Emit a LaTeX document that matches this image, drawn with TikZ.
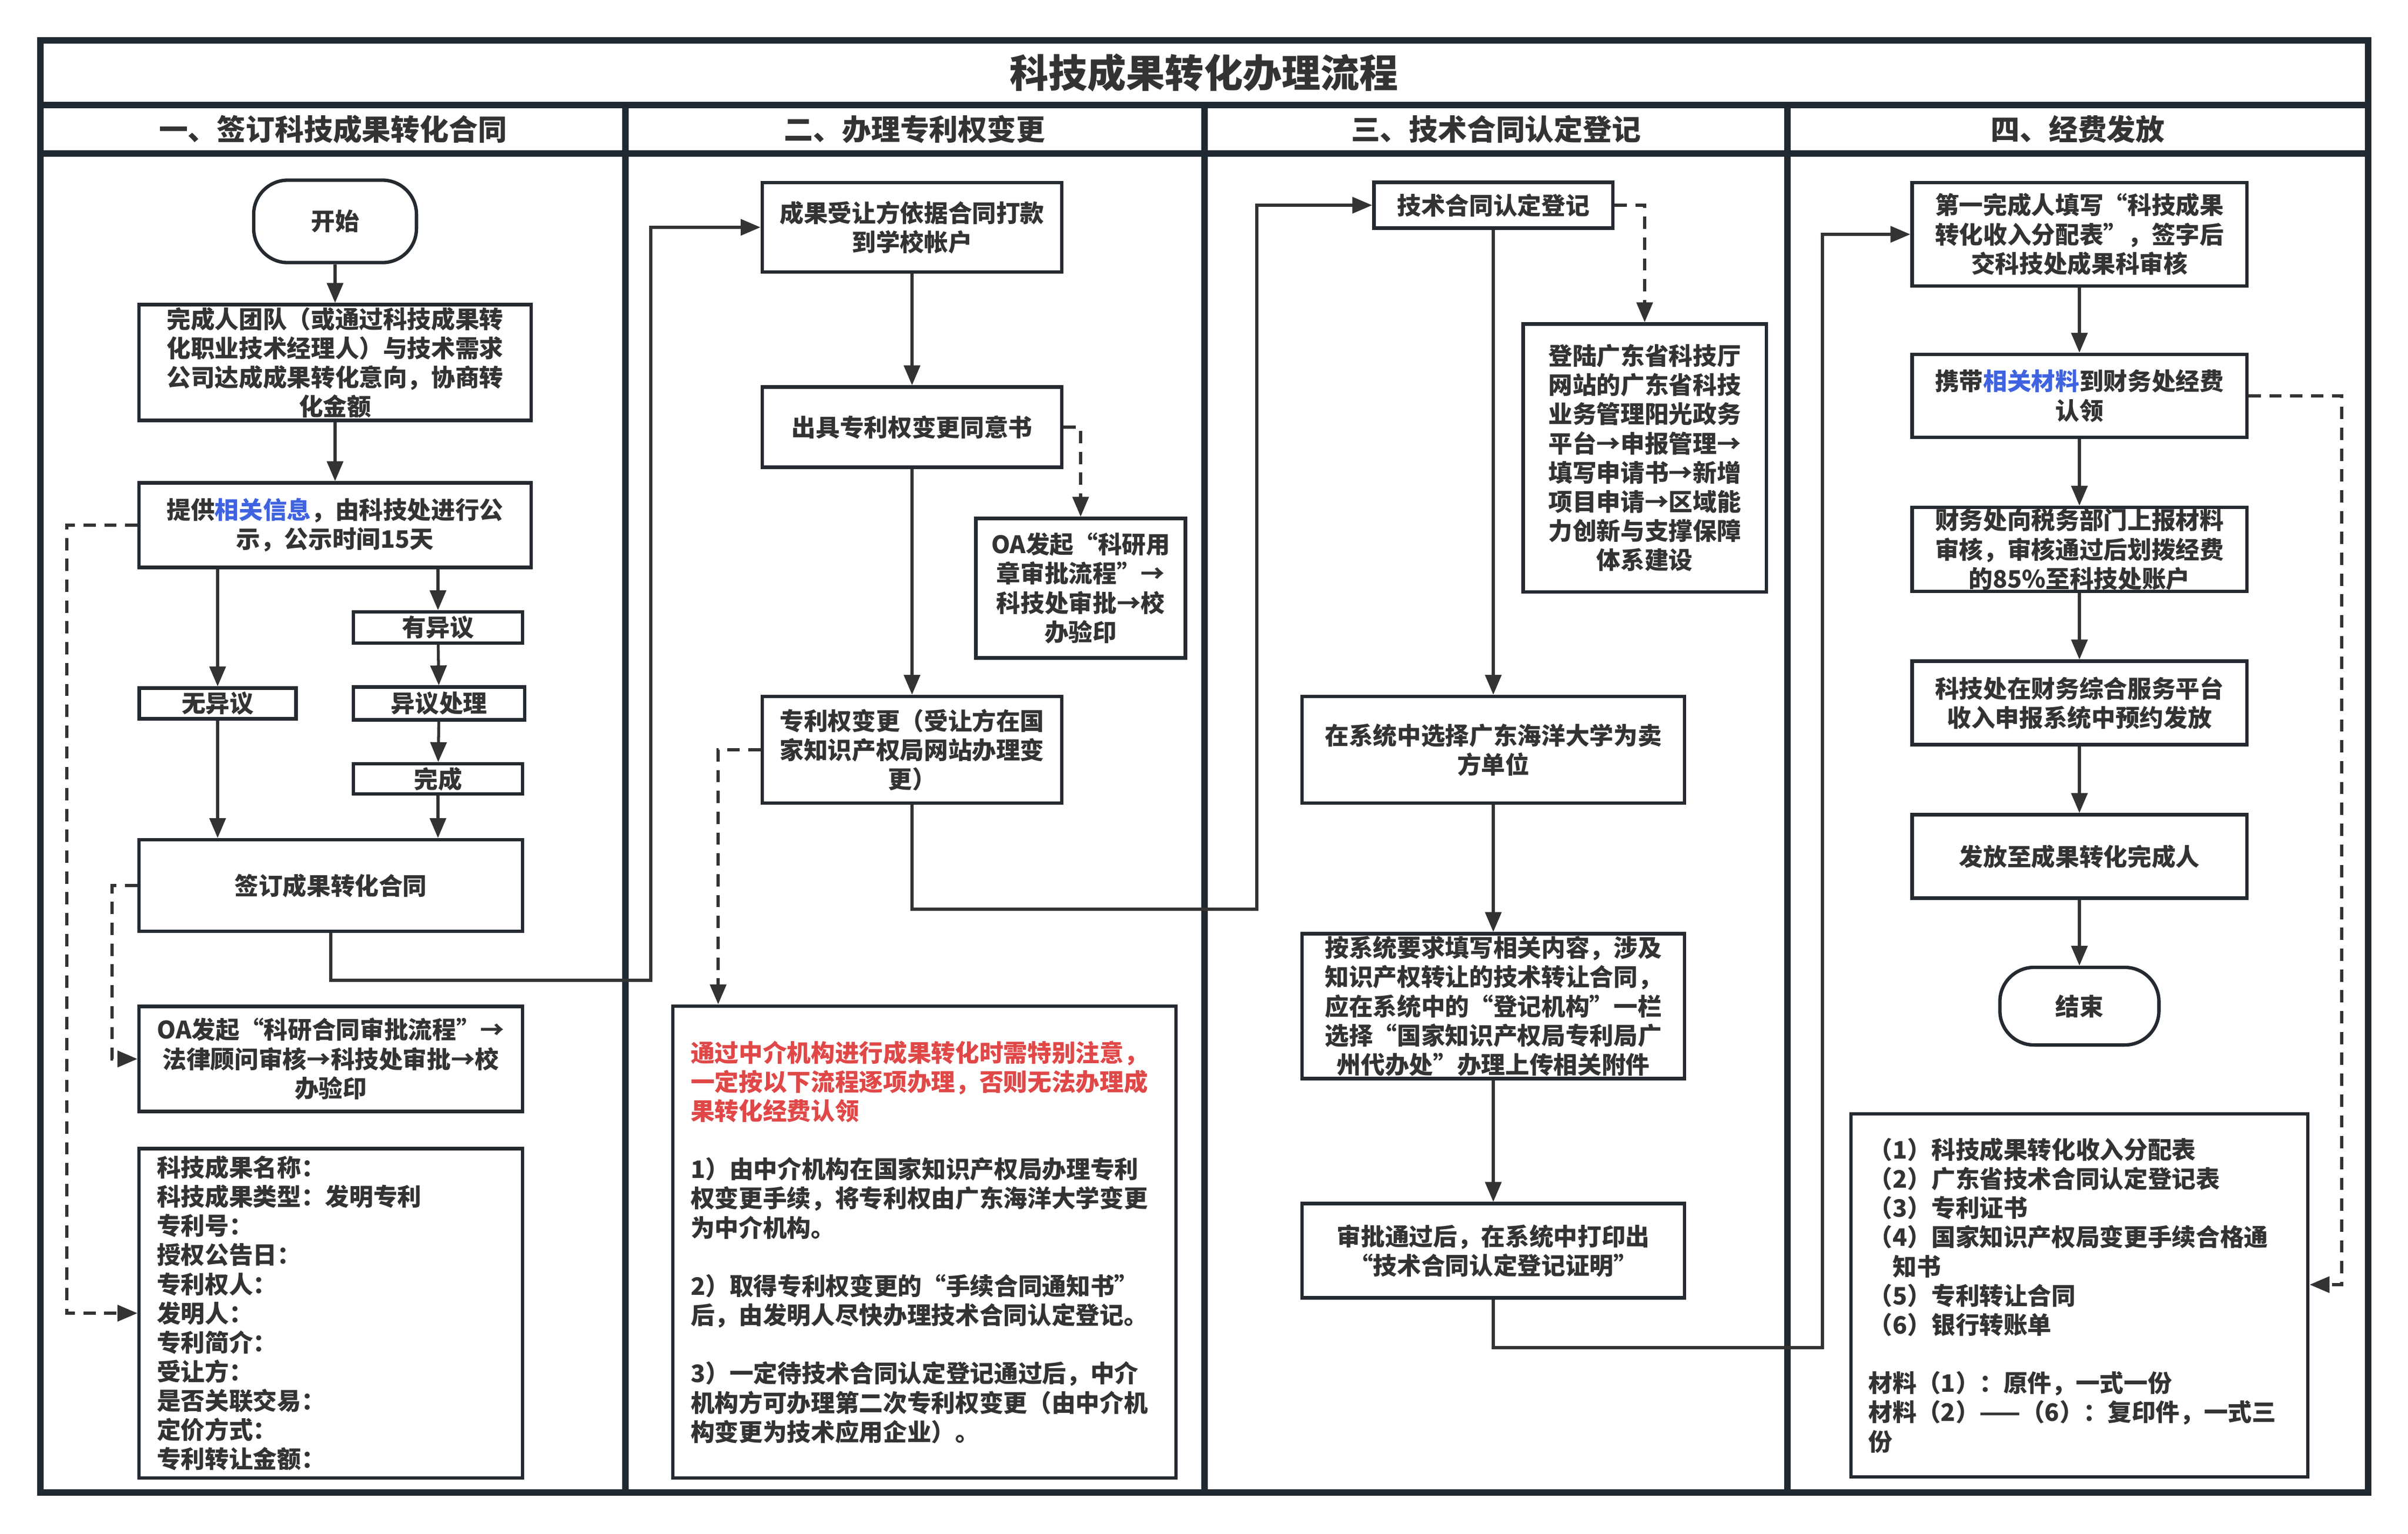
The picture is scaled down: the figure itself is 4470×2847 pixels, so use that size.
\documentclass[tikz,border=0pt]{standalone}
\usepackage{fontspec}
\setmainfont{Noto Sans CJK SC}
\usetikzlibrary{arrows.meta}
\definecolor{framec}{HTML}{212930}
\definecolor{linec}{HTML}{252A30}
\definecolor{arrc}{HTML}{333333}
\definecolor{textc}{HTML}{333333}
\definecolor{noteRed}{HTML}{E04848}
\definecolor{linkBlue}{HTML}{3F63E0}
\newcommand{\bodyfont}{\fontsize{12.7}{15.4}\selectfont\bfseries}
\newcommand{\headfont}{\fontsize{15.3}{18}\selectfont\bfseries}
\newcommand{\titlefont}{\fontsize{20.5}{24}\selectfont\bfseries}
\tikzset{
  fbox/.style={draw=linec,line width=1.8pt,fill=white,align=center,inner sep=0pt,text=textc,font=\bodyfont},
  termbox/.style={fbox,rounded corners=18pt},
  listbox/.style={fbox,align=left,inner xsep=0.33cm,inner ysep=0pt},
  arr/.style={draw=arrc,line width=1.5pt,-{Triangle[width=8.5pt,length=10.5pt]}},
  darr/.style={arr,dash pattern=on 6.5pt off 4.5pt},
  lane/.style={draw=framec,line width=3.2pt},
  hdr/.style={text=textc,font=\headfont,inner sep=0pt}
}
\begin{document}
\begin{tikzpicture}[x=0.01cm,y=-0.01cm]
        \useasboundingbox (0,0) rectangle (4470,2847);
        % frame and lanes
        \draw[lane] (75,75) rectangle (4396,2771);
        \draw[lane] (75,195) -- (4396,195);
        \draw[lane] (75,285) -- (4396,285);
        \draw[lane] (1161,195) -- (1161,2771);
        \draw[lane] (2236,195) -- (2236,2771);
        \draw[lane] (3318,195) -- (3318,2771);
        \node[text=textc,font=\titlefont] (title) at (2235,135) {科技成果转化办理流程};
        \node[hdr] (lane1) at (618,240) {一、签订科技成果转化合同};
        \node[hdr] (lane2) at (1698,240) {二、办理专利权变更};
        \node[hdr] (lane3) at (2777,240) {三、技术合同认定登记};
        \node[hdr] (lane4) at (3857,240) {四、经费发放};

        % lane 1
        \node[termbox,minimum width=3.02cm,minimum height=1.53cm] (start) at (622,411) {开始};
        \node[fbox,minimum width=7.27cm,minimum height=2.15cm] (team) at (622,673)
          {完成人团队（或通过科技成果转\\化职业技术经理人）与技术需求\\公司达成成果转化意向，协商转\\化金额};
        \node[fbox,minimum width=7.27cm,minimum height=1.57cm] (pub) at (622,975)
          {提供\textcolor{linkBlue}{相关信息}，由科技处进行公\\示，公示时间15天};
        \node[fbox,minimum width=3.14cm,minimum height=0.58cm] (obj) at (813,1165) {有异议};
        \node[fbox,minimum width=2.91cm,minimum height=0.57cm] (noobj) at (404,1306) {无异议};
        \node[fbox,minimum width=3.18cm,minimum height=0.61cm] (proc) at (815,1306) {异议处理};
        \node[fbox,minimum width=3.14cm,minimum height=0.56cm] (done) at (813,1446) {完成};
        \node[fbox,minimum width=7.11cm,minimum height=1.70cm] (sign) at (614,1644) {签订成果转化合同};
        \node[fbox,minimum width=7.11cm,minimum height=1.95cm] (oa1) at (614,1966)
          {OA发起“科研合同审批流程”→\\法律顾问审核→科技处审批→校\\办验印};
        \node[listbox,text width=6.45cm,minimum height=6.11cm] (info) at (614,2438)
          {科技成果名称：\\科技成果类型：发明专利\\专利号：\\授权公告日：\\专利权人：\\发明人：\\专利简介：\\受让方：\\是否关联交易：\\定价方式：\\专利转让金额：};

        % lane 2
        \node[fbox,minimum width=5.56cm,minimum height=1.66cm] (pay) at (1693,422)
          {成果受让方依据合同打款\\到学校帐户};
        \node[fbox,minimum width=5.56cm,minimum height=1.49cm] (agree) at (1693,793) {出具专利权变更同意书};
        \node[fbox,minimum width=3.89cm,minimum height=2.59cm] (oa2) at (2006,1092)
          {OA发起“科研用\\章审批流程”→\\科技处审批→校\\办验印};
        \node[fbox,minimum width=5.56cm,minimum height=1.98cm] (change) at (1693,1392)
          {专利权变更（受让方在国\\家知识产权局网站办理变\\更）};
        \node[listbox,text width=8.67cm,minimum height=8.76cm] (notes) at (1716,2306)
          {\textcolor{noteRed}{通过中介机构进行成果转化时需特别注意，}\\
           \textcolor{noteRed}{一定按以下流程逐项办理，否则无法办理成}\\
           \textcolor{noteRed}{果转化经费认领}\\[15.4pt]
           1）由中介机构在国家知识产权局办理专利\\权变更手续，将专利权由广东海洋大学变更\\为中介机构。\\[15.4pt]
           2）取得专利权变更的“手续合同通知书”\\后，由发明人尽快办理技术合同认定登记。\\[15.4pt]
           3）一定待技术合同认定登记通过后，中介\\机构方可办理第二次专利权变更（由中介机\\构变更为技术应用企业）。};

        % lane 3
        \node[fbox,minimum width=4.43cm,minimum height=0.85cm] (reg) at (2772,381) {技术合同认定登记};
        \node[fbox,minimum width=4.51cm,minimum height=4.97cm] (login) at (3053,850)
          {登陆广东省科技厅\\网站的广东省科技\\业务管理阳光政务\\平台→申报管理→\\填写申请书→新增\\项目申请→区域能\\力创新与支撑保障\\体系建设};
        \node[fbox,minimum width=7.09cm,minimum height=1.98cm] (seller) at (2772,1392)
          {在系统中选择广东海洋大学为卖\\方单位};
        \node[fbox,minimum width=7.09cm,minimum height=2.69cm] (fillin) at (2772,1868)
          {按系统要求填写相关内容，涉及\\知识产权转让的技术转让合同，\\应在系统中的“登记机构”一栏\\选择“国家知识产权局专利局广\\州代办处”办理上传相关附件};
        \node[fbox,minimum width=7.09cm,minimum height=1.75cm] (cert) at (2772,2322)
          {审批通过后，在系统中打印出\\“技术合同认定登记证明”};

        % lane 4
        \node[fbox,minimum width=6.21cm,minimum height=1.92cm] (form) at (3860,435)
          {第一完成人填写“科技成果\\转化收入分配表”，签字后\\交科技处成果科审核};
        \node[fbox,minimum width=6.21cm,minimum height=1.54cm] (claim) at (3860,735)
          {携带\textcolor{linkBlue}{相关材料}到财务处经费\\认领};
        \node[fbox,minimum width=6.21cm,minimum height=1.56cm] (tax) at (3860,1020)
          {财务处向税务部门上报材料\\审核，审核通过后划拨经费\\的85\%至科技处账户};
        \node[fbox,minimum width=6.21cm,minimum height=1.55cm] (book) at (3860,1305)
          {科技处在财务综合服务平台\\收入申报系统中预约发放};
        \node[fbox,minimum width=6.21cm,minimum height=1.55cm] (grant) at (3860,1590) {发放至成果转化完成人};
        \node[termbox,minimum width=2.95cm,minimum height=1.44cm] (stop) at (3860,1868) {结束};
        \node[listbox,text width=7.82cm,minimum height=6.74cm] (mats) at (3860,2405)
          {（1）科技成果转化收入分配表\\（2）广东省技术合同认定登记表\\（3）专利证书\\（4）国家知识产权局变更手续合格通\\\hspace*{1em}知书\\（5）专利转让合同\\（6）银行转账单\\[15.4pt]
           材料（1）：原件，一式一份\\材料（2）——（6）：复印件，一式三\\份};

        % bends of the long connectors
        \coordinate (jog1) at (1208,1820);
        \coordinate (jog2) at (2333,1688);
        \coordinate (jog3) at (3383,2502);
        \coordinate (matin) at (4347,2385);

        \begin{scope}[every edge/.style={arr}]
          \path (start) edge (team);
          \path (team) edge (pub);
          \path (noobj |- pub.south) edge (noobj);
          \path (obj |- pub.south) edge (obj);
          \path (obj) edge (proc);
          \path (proc) edge (done);
          \path (done) edge (done |- sign.north);
          \path (noobj) edge (noobj |- sign.north);
          \path (pay) edge (agree);
          \path (agree) edge (change);
          \path (reg) edge (seller);
          \path (seller) edge (fillin);
          \path (fillin) edge (cert);
          \path (form) edge (claim);
          \path (claim) edge (tax);
          \path (tax) edge (book);
          \path (book) edge (grant);
          \path (grant) edge (stop);
        \end{scope}
        \draw[arr] (sign.south) |- (jog1) |- (pay.west);
        \draw[arr] (change.south) |- (jog2) |- (reg.west);
        \draw[arr] (cert.south) |- (jog3) |- (form.west);
        \draw[darr] (pub.west) -- ++(-131,0) |- (info.west);
        \draw[darr] (sign.west) -- ++(-47,0) |- (oa1.west);
        \draw[darr] (agree.east) -| (oa2.north);
        \draw[darr] (change.west) -| ([xshift=0.87cm]notes.north west);
        \draw[darr] (reg.east) -| (login.north);
        \draw[darr] (claim.east) -| (matin) -- (matin -| mats.east);
      \end{tikzpicture}
\end{document}
